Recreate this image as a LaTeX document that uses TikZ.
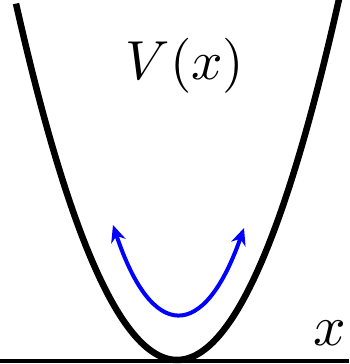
\documentclass[tikz,border=0pt]{standalone}
\usepackage{amsmath}
\usepackage{graphicx}
\usetikzlibrary{arrows.meta, positioning}

\begin{document}
\begin{tikzpicture}[x=1pt, y=1pt, >={Stealth[length=17pt, width=15pt]},
		well/.style={black, line width=6.5pt},
		axisline/.style={black, line width=3.5pt},
		osc/.style={blue, line width=4pt, <->},
		bigmath/.style={inner sep=0pt}]
			\useasboundingbox (0,0) rectangle (349,364);
			\draw[axisline] (0,3) -- (349,3);
			\draw[well, domain=16:341, samples=120, smooth]
			plot (\x, {4 + 0.01375*(\x-177)*(\x-177)});
			\coordinate (left) at (113,139);
			\coordinate (right) at (244,136);
			\draw[osc] (left) .. controls (152,22) and (204,22) .. (right);
			\node[bigmath] (potential) at (185,298) {\scalebox{5.5}{$V(x)$}};
			\node[bigmath] (position) at (330,31) {\scalebox{5.7}{$x$}};
		\end{tikzpicture}
\end{document}
